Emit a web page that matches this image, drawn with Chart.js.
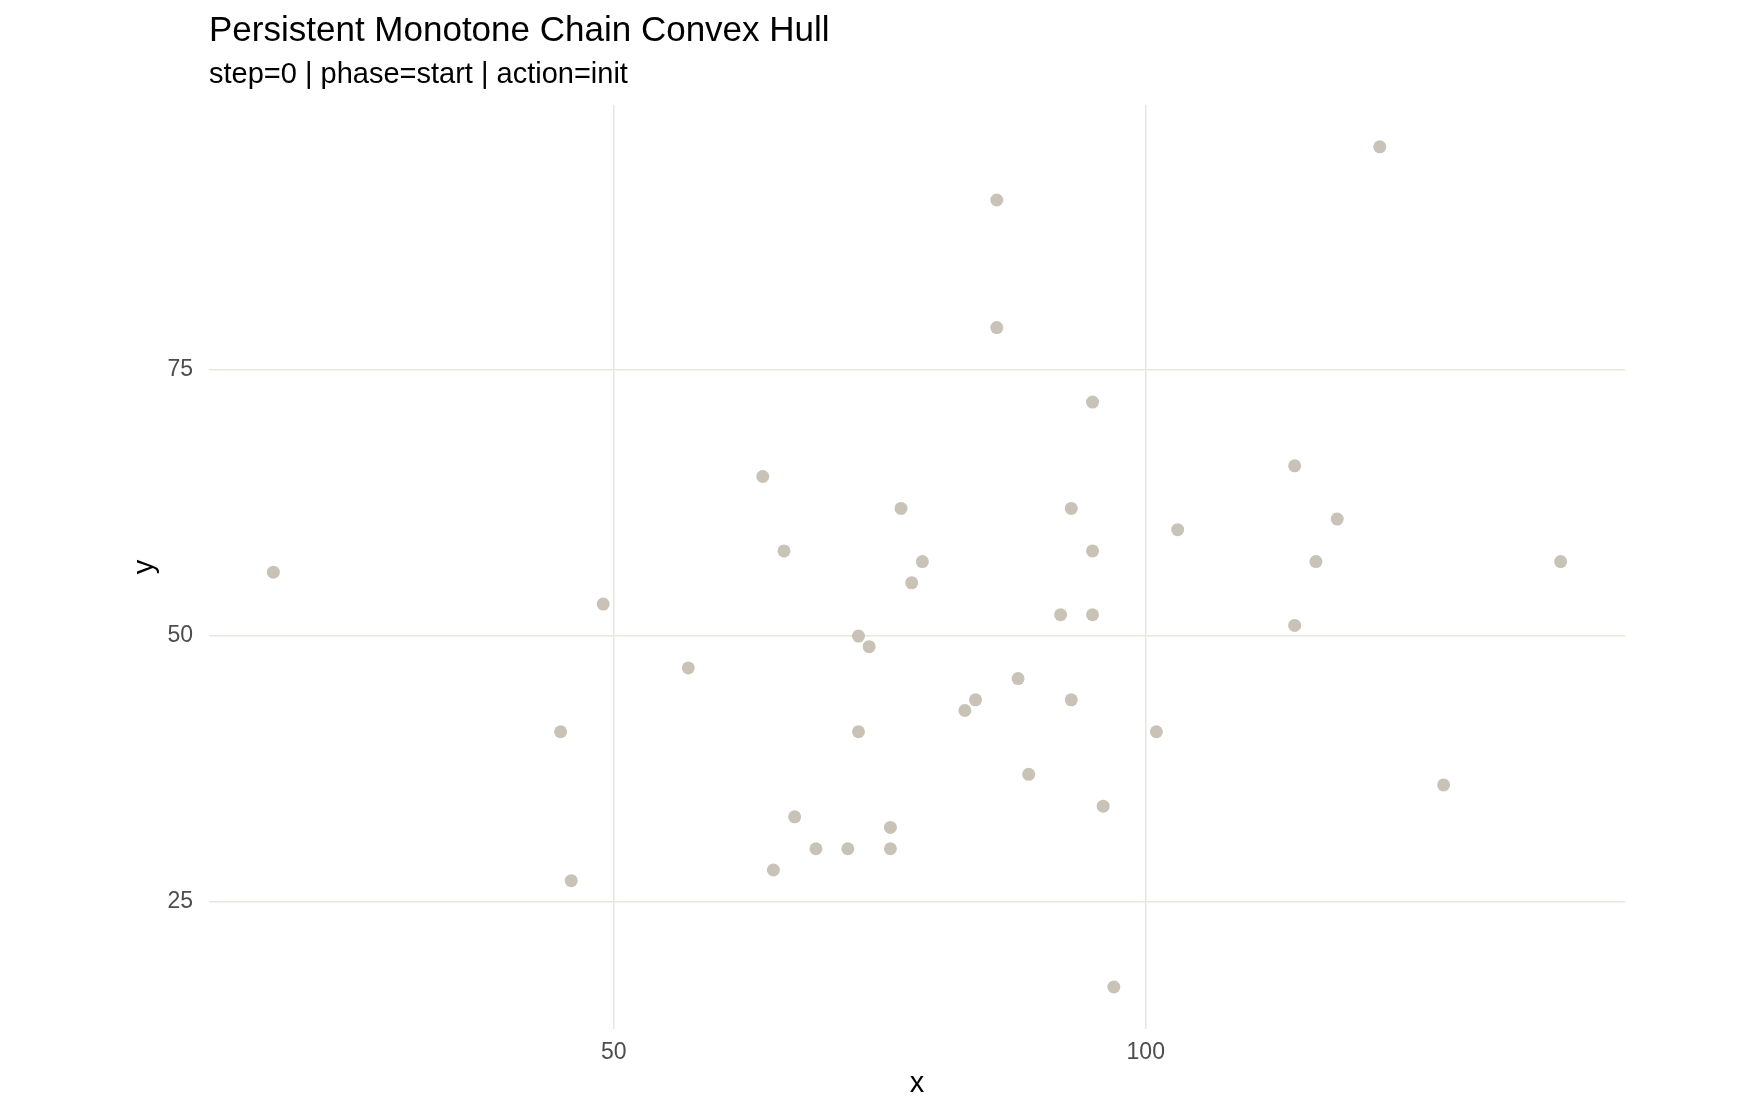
<!DOCTYPE html>
<html>
<head>
<meta charset="utf-8">
<script src="https://cdn.jsdelivr.net/npm/chart.js@4.4.1/dist/chart.umd.min.js"></script>
<style>
    body { margin: 0; background: #ffffff; }
    canvas { display: block; }
</style>
</head>
<body>
<canvas id="hull" width="1760" height="1113"></canvas>
<script>
// points
const xValues = [18, 49, 45, 46, 57, 64, 66, 67, 65, 69, 72, 73, 74, 73, 76, 76, 77, 78, 79, 83, 84,
    86, 86, 88, 89, 92, 93, 93, 95, 95, 95, 96, 97, 101, 103, 114, 114, 116, 118, 122, 128, 139]
const yValues = [56, 53, 41, 27, 47, 65, 58, 33, 28, 30, 30, 50, 49, 41, 32, 30, 62, 55, 57, 43, 44,
    91, 79, 46, 37, 52, 62, 44, 72, 58, 52, 34, 17, 41, 60, 66, 51, 57, 61, 96, 36, 57]
const xTicks = [50, 100]
const yTicks = [25, 50, 75]

const font = "'Liberation Sans', Arial, Helvetica, sans-serif"

// ggplot style 5% expansion of the data range
function expand(values) {
    var lo = Math.min(...values)
    var hi = Math.max(...values)
    var pad = (hi - lo) * 0.05
    return [lo - pad, hi + pad]
}
const xRange = expand(xValues)
const yRange = expand(yValues)

const points = xValues.map((x, i) => ({ x: x, y: yValues[i] }))

const hull = new Chart(document.getElementById('hull'), {
    type: 'scatter',
    data: {
        datasets: [{
            data: points,
            backgroundColor: '#c9c3b7',
            borderWidth: 0,
            pointRadius: 6.5,
            pointHoverRadius: 6.5
        }]
    },
    options: {
        responsive: false,
        animation: false,
        layout: { padding: { left: 0, right: 135, top: 0, bottom: 0 } },
        plugins: {
            legend: { display: false },
            tooltip: { enabled: false },
            title: {
                display: true,
                text: 'Persistent Monotone Chain Convex Hull',
                align: 'start',
                fullSize: false,
                color: '#000000',
                font: { family: font, size: 35, weight: 'normal' },
                padding: { top: 10, bottom: 0 }
            },
            subtitle: {
                display: true,
                text: 'step=0 | phase=start | action=init',
                align: 'start',
                fullSize: false,
                color: '#000000',
                font: { family: font, size: 29, weight: 'normal' },
                padding: { top: 6, bottom: 12 }
            }
        },
        scales: {
            x: {
                type: 'linear',
                min: xRange[0],
                max: xRange[1],
                afterBuildTicks: (scale) => { scale.ticks = xTicks.map(v => ({ value: v })) },
                afterFit: (scale) => { scale.height = 84 },
                border: { display: false },
                grid: { color: '#e9e6da', lineWidth: 1.5, drawTicks: false },
                ticks: { color: '#4d4d4d', font: { family: font, size: 23 }, padding: 10 },
                title: {
                    display: true,
                    text: 'x',
                    color: '#000000',
                    font: { family: font, size: 29 },
                    padding: { top: 0, bottom: 12 }
                }
            },
            y: {
                type: 'linear',
                min: yRange[0],
                max: yRange[1],
                afterBuildTicks: (scale) => { scale.ticks = yTicks.map(v => ({ value: v })) },
                afterFit: (scale) => { scale.width = 209 },
                border: { display: false },
                grid: { color: '#e9e6da', lineWidth: 1.5, drawTicks: false },
                ticks: { color: '#4d4d4d', font: { family: font, size: 23 }, padding: 16 },
                title: {
                    display: true,
                    text: 'y',
                    color: '#000000',
                    font: { family: font, size: 29 },
                    padding: { top: 128, bottom: 0 }
                }
            }
        }
    }
})
</script>
</body>
</html>
